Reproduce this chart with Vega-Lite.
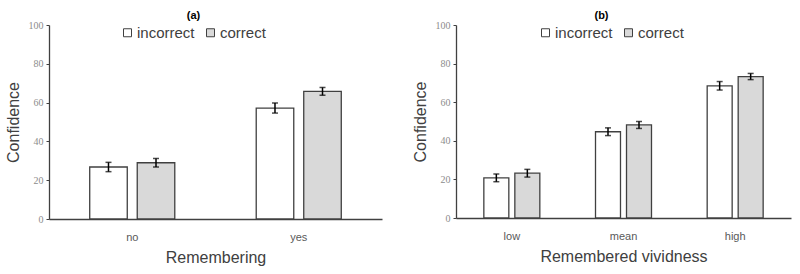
{
  "$schema": "https://vega.github.io/schema/vega-lite/v6.json",
  "background": "white",
  "padding": {"left": 5, "top": 10, "right": 5, "bottom": 5},
  "spacing": 30,
  "datasets": {
    "remembering": [
      {"group": "no", "answer": "incorrect", "mean": 26.8, "lo": 24.4, "hi": 29.2},
      {"group": "no", "answer": "correct", "mean": 29.0, "lo": 26.8, "hi": 31.2},
      {"group": "yes", "answer": "incorrect", "mean": 57.2, "lo": 54.6, "hi": 59.8},
      {"group": "yes", "answer": "correct", "mean": 65.8, "lo": 63.8, "hi": 67.8}
    ],
    "vividness": [
      {"group": "low", "answer": "incorrect", "mean": 20.8, "lo": 18.8, "hi": 22.8},
      {"group": "low", "answer": "correct", "mean": 23.2, "lo": 21.2, "hi": 25.2},
      {"group": "mean", "answer": "incorrect", "mean": 44.7, "lo": 42.7, "hi": 46.7},
      {"group": "mean", "answer": "correct", "mean": 48.2, "lo": 46.4, "hi": 50.0},
      {"group": "high", "answer": "incorrect", "mean": 68.5, "lo": 66.3, "hi": 70.7},
      {"group": "high", "answer": "correct", "mean": 73.3, "lo": 71.7, "hi": 74.9}
    ]
  },
  "resolve": {
    "scale": {"fill": "independent", "xOffset": "independent"},
    "legend": {"fill": "independent"}
  },
  "hconcat": [
    {
      "title": "(a)",
      "width": 333,
      "height": 194,
      "data": {"name": "remembering"},
      "encoding": {
        "x": {
          "field": "group", "type": "nominal", "sort": ["no", "yes"],
          "scale": {"paddingInner": 0, "paddingOuter": 0},
          "axis": {"title": "Remembering", "titlePadding": 7}
        },
        "xOffset": {
          "field": "answer", "type": "nominal", "sort": ["incorrect", "correct"],
          "scale": {"paddingInner": 0.21, "paddingOuter": 0.857}
        }
      },
      "layer": [
        {
          "mark": {"type": "bar", "stroke": "#404040", "strokeWidth": 1.3},
          "encoding": {
            "y": {"field": "mean", "type": "quantitative", "scale": {"domain": [0, 100]},
                  "axis": {"title": "Confidence", "values": [0, 20, 40, 60, 80, 100], "labelOverlap": false}},
            "fill": {
              "field": "answer", "type": "nominal",
              "scale": {"domain": ["incorrect", "correct"], "range": ["#ffffff", "#d9d9d9"]},
              "legend": {"orient": "none", "legendX": 71, "legendY": 0, "direction": "horizontal"}
            }
          }
        },
        {
          "mark": {"type": "rule", "color": "black", "strokeWidth": 1.5},
          "encoding": {
            "y": {"field": "lo", "type": "quantitative",
                  "axis": {"title": "Confidence", "values": [0, 20, 40, 60, 80, 100], "labelOverlap": false}},
            "y2": {"field": "hi"}
          }
        },
        {
          "mark": {"type": "tick", "color": "black", "thickness": 1.5, "size": 6},
          "encoding": {"y": {"field": "lo", "type": "quantitative",
                  "axis": {"title": "Confidence", "values": [0, 20, 40, 60, 80, 100], "labelOverlap": false}}}
        },
        {
          "mark": {"type": "tick", "color": "black", "thickness": 1.5, "size": 6},
          "encoding": {"y": {"field": "hi", "type": "quantitative",
                  "axis": {"title": "Confidence", "values": [0, 20, 40, 60, 80, 100], "labelOverlap": false}}}
        }
      ]
    },
    {
      "title": "(b)",
      "width": 335,
      "height": 193,
      "data": {"name": "vividness"},
      "encoding": {
        "x": {
          "field": "group", "type": "nominal", "sort": ["low", "mean", "high"],
          "scale": {"paddingInner": 0, "paddingOuter": 0},
          "axis": {"title": "Remembered vividness", "titlePadding": 7}
        },
        "xOffset": {
          "field": "answer", "type": "nominal", "sort": ["incorrect", "correct"],
          "scale": {"paddingInner": 0.194, "paddingOuter": 0.898}
        }
      },
      "layer": [
        {
          "mark": {"type": "bar", "stroke": "#404040", "strokeWidth": 1.3},
          "encoding": {
            "y": {"field": "mean", "type": "quantitative", "scale": {"domain": [0, 100]},
                  "axis": {"title": "Confidence", "values": [0, 20, 40, 60, 80, 100], "labelOverlap": false}},
            "fill": {
              "field": "answer", "type": "nominal",
              "scale": {"domain": ["incorrect", "correct"], "range": ["#ffffff", "#d9d9d9"]},
              "legend": {"orient": "none", "legendX": 82, "legendY": 0, "direction": "horizontal"}
            }
          }
        },
        {
          "mark": {"type": "rule", "color": "black", "strokeWidth": 1.5},
          "encoding": {
            "y": {"field": "lo", "type": "quantitative",
                  "axis": {"title": "Confidence", "values": [0, 20, 40, 60, 80, 100], "labelOverlap": false}},
            "y2": {"field": "hi"}
          }
        },
        {
          "mark": {"type": "tick", "color": "black", "thickness": 1.5, "size": 6},
          "encoding": {"y": {"field": "lo", "type": "quantitative",
                  "axis": {"title": "Confidence", "values": [0, 20, 40, 60, 80, 100], "labelOverlap": false}}}
        },
        {
          "mark": {"type": "tick", "color": "black", "thickness": 1.5, "size": 6},
          "encoding": {"y": {"field": "hi", "type": "quantitative",
                  "axis": {"title": "Confidence", "values": [0, 20, 40, 60, 80, 100], "labelOverlap": false}}}
        }
      ]
    }
  ],
  "config": {
    "view": {"stroke": null},
    "font": "Liberation Sans",
    "title": {"font": "Liberation Sans", "fontSize": 11, "fontWeight": "bold", "color": "#000000", "frame": "bounds", "offset": -1},
    "axis": {
      "grid": false,
      "domainColor": "#404040",
      "domainWidth": 1.3,
      "tickColor": "#404040",
      "titleFont": "Liberation Sans",
      "titleFontSize": 16,
      "titleFontWeight": "normal",
      "titleColor": "#404040"
    },
    "axisY": {
      "tickSize": 3,
      "labelFont": "Liberation Serif",
      "labelFontSize": 10,
      "labelColor": "#8c8c8c",
      "labelPadding": 3,
      "titlePadding": 7
    },
    "axisX": {
      "ticks": false,
      "labelAngle": 0,
      "labelFontSize": 11,
      "labelColor": "#595959",
      "labelPadding": 12
    },
    "legend": {
      "title": null,
      "symbolType": "square",
      "symbolSize": 64,
      "symbolStrokeColor": "#404040",
      "symbolStrokeWidth": 1,
      "labelFontSize": 15,
      "labelColor": "#404040",
      "labelOffset": 2,
      "columnPadding": 8
    }
  }
}
